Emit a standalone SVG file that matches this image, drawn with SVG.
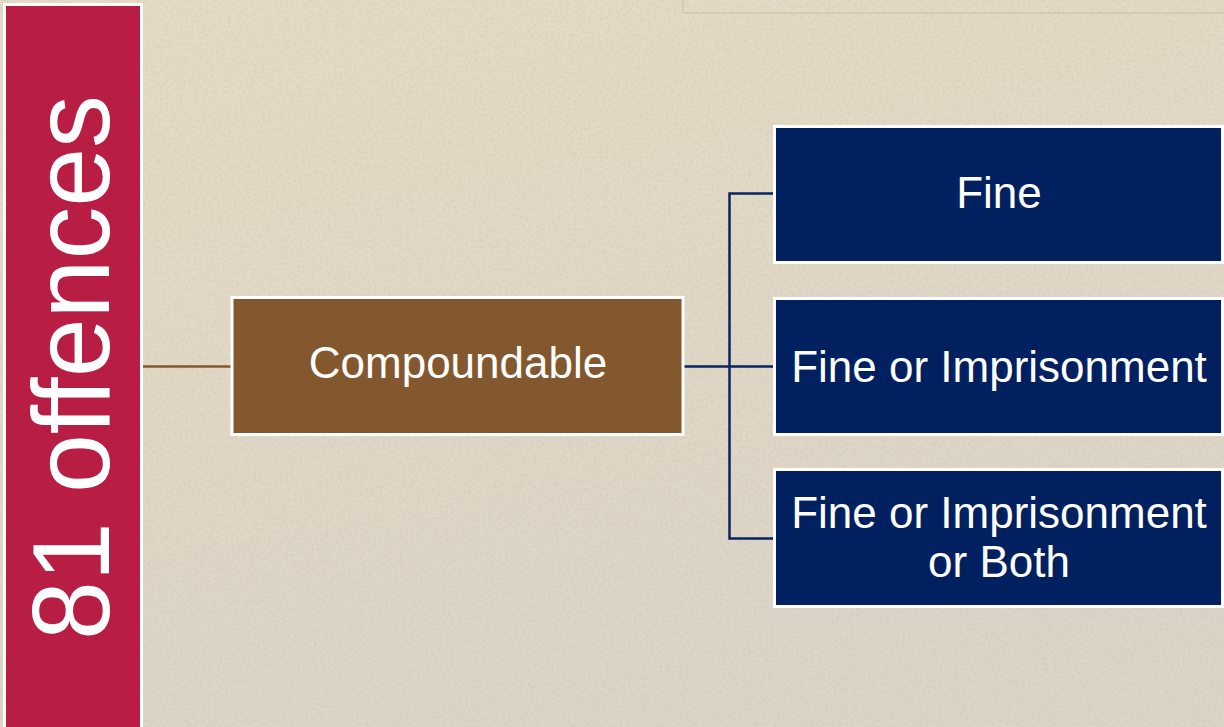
<svg xmlns="http://www.w3.org/2000/svg" width="1224" height="727" viewBox="0 0 1224 727">
  <defs>
    <linearGradient id="paper" x1="0" y1="0" x2="0.3" y2="1">
      <stop offset="0" stop-color="#E6DCC5"/>
      <stop offset="0.5" stop-color="#E1D8C6"/>
      <stop offset="1" stop-color="#DCD4C7"/>
    </linearGradient>
    <filter id="grain" x="0" y="0" width="100%" height="100%">
      <feTurbulence type="fractalNoise" baseFrequency="0.35" numOctaves="3" seed="7" result="n"/>
      <feColorMatrix in="n" type="matrix" values="0 0 0 0 0.55  0 0 0 0 0.48  0 0 0 0 0.38  0 0 0 1.1 -0.45"/>
    </filter>
    <style>
      .box { stroke: #FFFFFF; stroke-width: 3; }
      .navy { fill: #002060; }
      .label { fill: #FFFFFF; font-family: "Liberation Sans", "Open Sans", sans-serif; font-size: 44px; text-anchor: middle; }
      .link-blue { stroke: #0A2460; stroke-width: 2.5; fill: none; }
      .link-brown { stroke: #84582E; stroke-width: 2.5; fill: none; }
    </style>
  </defs>

  <!-- parchment background -->
  <rect width="1224" height="727" fill="url(#paper)"/>
  <rect width="1224" height="727" filter="url(#grain)" opacity="0.55"/>
  <!-- faint map frame along the top edge -->
  <g stroke="#CFC2A8" stroke-width="1.5" fill="none" opacity="0.8">
    <path d="M683 13 H1224"/>
    <path d="M683 0 V13"/>
  </g>

  <!-- connectors -->
  <g id="connectors">
    <path class="link-brown" d="M141 366.5 H232"/>
    <path class="link-blue" d="M683 366.5 H774"/>
    <path class="link-blue" d="M774 193.5 H729.5 V538.5 H774"/>
  </g>

  <!-- vertical title bar -->
  <g id="title">
    <rect class="box" x="4.5" y="4.5" width="137" height="730" fill="#B81E44"/>
    <text transform="translate(109,640) rotate(-90)" fill="#FFFFFF" font-family="Liberation Sans, Open Sans, sans-serif" font-size="110" textLength="545" lengthAdjust="spacingAndGlyphs">81 offences</text>
  </g>

  <g id="compoundable">
    <rect class="box" x="232" y="297.5" width="451" height="137" fill="#84582E"/>
    <text class="label" x="458" y="378">Compoundable</text>
  </g>

  <g id="fine">
    <rect class="box navy" x="774.5" y="126.5" width="448" height="136"/>
    <text class="label" x="999" y="208">Fine</text>
  </g>

  <g id="fine-or-imprisonment">
    <rect class="box navy" x="774.5" y="298.5" width="448" height="136"/>
    <text class="label" x="999" y="382">Fine or Imprisonment</text>
  </g>

  <g id="fine-or-imprisonment-or-both">
    <rect class="box navy" x="774.5" y="469.5" width="448" height="137"/>
    <text class="label" x="999" y="528">Fine or Imprisonment</text>
    <text class="label" x="999" y="577">or Both</text>
  </g>
</svg>
